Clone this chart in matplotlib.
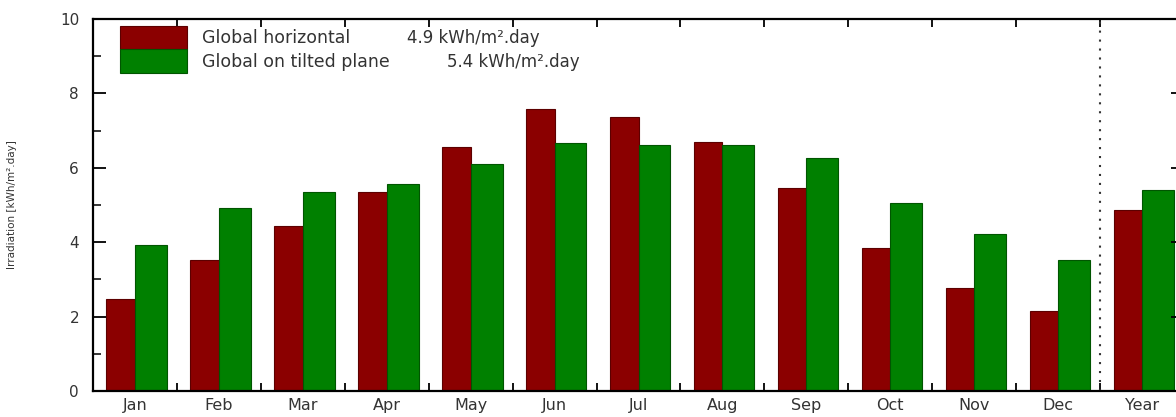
import numpy as np
import matplotlib
matplotlib.use("Agg")
import matplotlib.pyplot as plt
from matplotlib.ticker import MultipleLocator, FixedLocator

# Monthly irradiation, kWh/m².day
months = ["Jan", "Feb", "Mar", "Apr", "May", "Jun", "Jul", "Aug",
          "Sep", "Oct", "Nov", "Dec", "Year"]
global_horizontal = [2.47, 3.52, 4.44, 5.35, 6.56, 7.58, 7.37, 6.69,
                     5.46, 3.84, 2.77, 2.15, 4.87]
global_tilted = [3.93, 4.92, 5.36, 5.57, 6.10, 6.67, 6.61, 6.61,
                 6.26, 5.05, 4.22, 3.52, 5.41]
series_names = ["Global horizontal", "Global on tilted plane"]

plt.rcParams["font.family"] = ["DejaVu Sans"]

fig = plt.figure(figsize=(11.76, 4.17), dpi=100)
# axes runs a little past the right edge of the figure
ax = fig.add_axes([93 / 1176, 26 / 417, 1091 / 1176, 372 / 417])

x = np.arange(len(months))
red = "#8b0000"
green = "#008000"
b1 = ax.bar(x + 0.16, global_horizontal, width=0.34, align="edge",
            color=red, edgecolor="#5c0000", linewidth=0.8, label=series_names[0])
b2 = ax.bar(x + 0.50, global_tilted, width=0.38, align="edge",
            color=green, edgecolor="#005500", linewidth=0.8, label=series_names[1])

# separator between the months and the yearly average
ax.axvline(12, color="#333333", linewidth=1.5, linestyle=(0, (1, 3.3)))

ax.set_xlim(0, 13)
ax.set_ylim(0, 10)

ax.xaxis.set_major_locator(FixedLocator(x + 0.5))
ax.set_xticklabels(months)
ax.xaxis.set_minor_locator(FixedLocator(np.arange(0, 14)))
ax.tick_params(axis="x", which="major", length=0, pad=5, labelsize=11.5,
               labelcolor="#333333")
ax.tick_params(axis="x", which="minor", direction="in", length=6, width=1.3,
               top=True, bottom=True)

ax.yaxis.set_major_locator(MultipleLocator(2))
ax.yaxis.set_minor_locator(MultipleLocator(1))
ax.tick_params(axis="y", which="major", direction="in", length=9.5, width=1.3,
               left=True, right=True, labelsize=11, labelcolor="#333333", pad=10)
ax.tick_params(axis="y", which="minor", direction="in", length=5.5, width=1.1,
               left=True, right=True)

for s in ax.spines.values():
    s.set_linewidth(1.6)
    s.set_color("black")

ax.set_ylabel("Irradiation [kWh/m².day]", fontsize=7.5, color="#333333")
ax.yaxis.set_label_coords(-0.07, 0.5)

leg = ax.legend(handles=[b1, b2], loc="upper left",
                bbox_to_anchor=(27 / 1091, 365 / 372), frameon=False,
                fontsize=12.5, labelspacing=0.0, handlelength=3.85,
                handleheight=1.7, handletextpad=0.9, borderpad=0,
                borderaxespad=0)
for t in leg.get_texts():
    t.set_color("#333333")

# yearly averages beside the legend entries
ax.text(314 / 1091, (391 - 38) / 372, f"{global_horizontal[-1]:.1f} kWh/m².day",
        transform=ax.transAxes, fontsize=12, color="#333333", va="center")
ax.text(354 / 1091, (391 - 62) / 372, f"{global_tilted[-1]:.1f} kWh/m².day",
        transform=ax.transAxes, fontsize=12, color="#333333", va="center")

fig.savefig("out.png", dpi=100)
